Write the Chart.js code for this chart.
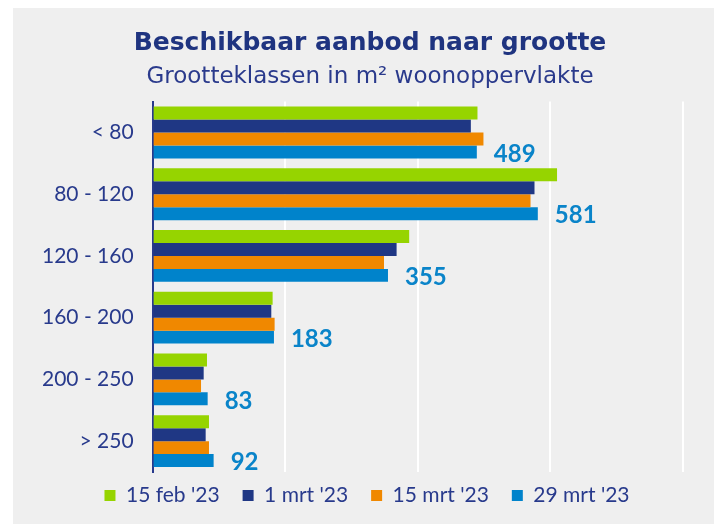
<!DOCTYPE html>
<html>
<head>
<meta charset="utf-8">
<script src="https://cdn.jsdelivr.net/npm/chart.js@4"></script>
<style>
  html, body { margin: 0; padding: 0; background: #ffffff; }
  #wrap { position: absolute; left: 13px; top: 8px; width: 701px; height: 516px; background: #efefef; }
</style>
</head>
<body>
<div id="wrap"><canvas id="chart"></canvas></div>
<script>
const categories = ['< 80', '80 - 120', '120 - 160', '160 - 200', '200 - 250', '> 250'];
const seriesNames = ["15 feb '23", "1 mrt '23", "15 mrt '23", "29 mrt '23"];
const feb15 = [490, 610, 387, 181, 82, 85];
const mrt1 = [480, 576, 368, 179, 77, 80];
const mrt15 = [499, 570, 349, 184, 73, 85];
const mrt29 = [489, 581, 355, 183, 83, 92];
const colors = ['#96d400', '#1f3784', '#f08800', '#0083cb'];

const navy = '#283a8c';
const fontFamily = 'Lato, "Noto Sans", sans-serif';
const titleFamily = '"DejaVu Sans", sans-serif';

// only the last series gets its value printed next to the bar
const lastValueLabels = {
  id: 'lastValueLabels',
  afterDatasetsDraw(chart) {
    const ctx = chart.ctx;
    const meta = chart.getDatasetMeta(3);
    ctx.save();
    ctx.font = 'bold 24px ' + fontFamily;
    ctx.fillStyle = '#0a84c9';
    ctx.textAlign = 'left';
    ctx.textBaseline = 'middle';
    meta.data.forEach((bar, i) => {
      ctx.fillText(String(mrt29[i]), bar.x + 17, bar.y + 2);
    });
    ctx.restore();
  }
};

// legend takes less vertical room so the plot can reach further down,
// then the legend (and the titles) are nudged into place
const nudgeBoxes = {
  id: 'nudgeBoxes',
  beforeInit(chart) {
    const fit = chart.legend.fit;
    chart.legend.fit = function () {
      fit.call(this);
      this.height -= 18;
    };
  },
  afterLayout(chart) {
    const lg = chart.legend;
    lg.top -= 10;
    lg.bottom += 10;
    lg.left += 14;
    lg.right += 14;
    chart.boxes.forEach(b => {
      if (b !== lg && b.options && typeof b.options.text === 'string') {
        b.left += 17;
        b.right += 17;
      }
    });
  }
};

new Chart(document.getElementById('chart'), {
  type: 'bar',
  data: {
    labels: categories,
    datasets: [feb15, mrt1, mrt15, mrt29].map((d, i) => ({
      label: seriesNames[i],
      data: d,
      backgroundColor: colors[i],
      categoryPercentage: 0.84,
      barPercentage: 1.0,
    }))
  },
  options: {
    indexAxis: 'y',
    responsive: true,
    maintainAspectRatio: false,
    animation: false,
    layout: { padding: { left: 10, right: 31, top: 0, bottom: 16 } },
    scales: {
      x: {
        min: 0,
        max: 800,
        ticks: { display: false, stepSize: 200 },
        grid: { color: '#ffffff', lineWidth: 2, drawTicks: false },
        border: { display: false }
      },
      y: {
        ticks: { color: navy, font: { family: fontFamily, size: 21 }, padding: 19 },
        grid: { display: false, drawTicks: false },
        border: { color: navy, width: 2 }
      }
    },
    plugins: {
      title: {
        display: true,
        text: 'Beschikbaar aanbod naar grootte',
        color: '#1f3480',
        font: { family: titleFamily, size: 25, weight: 'bold' },
        padding: { top: 20, bottom: 5 }
      },
      subtitle: {
        display: true,
        text: 'Grootteklassen in m² woonoppervlakte',
        color: '#2a3a8c',
        font: { family: titleFamily, size: 23 },
        padding: { bottom: 11 }
      },
      legend: {
        position: 'bottom',
        labels: {
          color: navy,
          font: { family: fontFamily, size: 21 },
          boxWidth: 11,
          boxHeight: 11,
          padding: 23
        }
      },
      tooltip: { enabled: false }
    }
  },
  plugins: [lastValueLabels, nudgeBoxes]
});
</script>
</body>
</html>
